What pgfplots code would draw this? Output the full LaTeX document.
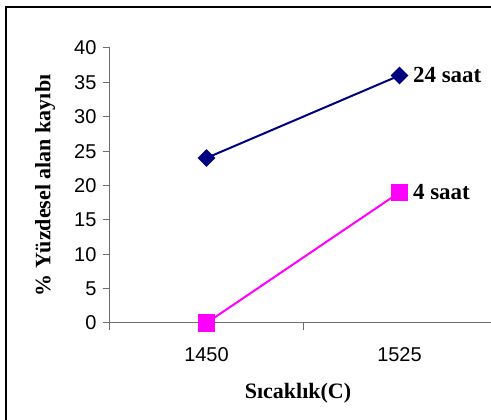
\documentclass[border=0pt]{standalone}
\usepackage{pgfplots}
\pgfplotsset{compat=1.18}
\usepackage{fontspec}
\setmainfont{Liberation Serif}
\newfontfamily\arial{Liberation Sans}
\definecolor{navyc}{RGB}{0,0,128}
\definecolor{magc}{RGB}{255,0,255}
\definecolor{axgray}{RGB}{110,110,110}
\begin{document}
\begin{tikzpicture}
\useasboundingbox (0,0) rectangle (491pt,420pt);
\draw[line width=1.8pt,black] (6pt,-20pt) rectangle (510pt,413pt);
\begin{axis}[
  at={(110pt,97pt)}, anchor=south west,
  scale only axis, width=386pt, height=275pt,
  xmin=-0.5, xmax=1.5, ymin=0, ymax=40,
  axis x line*=bottom, axis y line*=left,
  axis line style={-, axgray, line width=1pt},
  every tick/.style={axgray, line width=1pt},
  tick align=outside, major tick length=7pt,
  xtick={-0.5,0.5,1.5}, xticklabels={},
  extra x ticks={0,1}, extra x tick labels={1450,1525},
  extra x tick style={major tick length=0pt, xticklabel style={yshift=-21pt}},
  ytick={0,5,...,40},
  yticklabel style={xshift=-3pt},
  /pgf/number format/assume math mode=true,
  ticklabel style={font=\arial\fontsize{20}{23}\selectfont},
  xlabel={Sıcaklık(C)},
  ylabel={\% Yüzdesel alan kayıbı},
  label style={font=\bfseries\fontsize{22}{25}\selectfont},
  xlabel style={at={(axis description cs:0.487,-0.2545)}, anchor=center},
  ylabel style={at={(axis description cs:-0.168,0.5)}, anchor=center, rotate=0},
  clip=false,
]
\addplot[navyc, line width=2pt, mark=square*, mark size=5.3pt, mark options={rotate=45, fill=navyc, draw=navyc}]
  coordinates {(0,24) (1,36)};
\addplot[magc, line width=2pt, mark=square*, mark size=7.6pt, mark options={fill=magc, draw=magc}]
  coordinates {(0,0) (1,19)};
\node[anchor=west, font=\bfseries\fontsize{23}{26}\selectfont, xshift=10pt] at (axis cs:1,36) {24 saat};
\node[anchor=west, font=\bfseries\fontsize{23}{26}\selectfont, xshift=10pt] at (axis cs:1,19) {4 saat};
\end{axis}
\end{tikzpicture}
\end{document}
